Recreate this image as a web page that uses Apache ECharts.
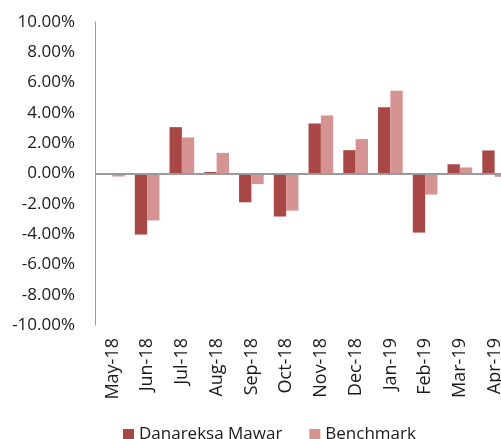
<!DOCTYPE html>
<html>
<head>
<meta charset="utf-8">
<script src="https://cdn.jsdelivr.net/npm/echarts@6/dist/echarts.min.js"></script>
<style>html,body{margin:0;padding:0;background:#fff;}#c{width:501px;height:439px;}</style>
</head>
<body>
<div id="c"></div>
<script>
var categories = ['May-18','Jun-18','Jul-18','Aug-18','Sep-18','Oct-18','Nov-18','Dec-18','Jan-19','Feb-19','Mar-19','Apr-19'];
var danareksa = [-0.1, -4.03, 3.06, 0.1, -1.9, -2.84, 3.3, 1.54, 4.38, -3.9, 0.61, 1.52];
var benchmark = [-0.2, -3.1, 2.38, 1.36, -0.7, -2.45, 3.83, 2.27, 5.46, -1.39, 0.4, -0.22];
var seriesNames = ['Danareksa Mawar', 'Benchmark'];

var font = '"Open Sans", "Liberation Sans", sans-serif';
var chart = echarts.init(document.getElementById('c'), null, {renderer: 'canvas'});
chart.setOption({
  animation: false,
  backgroundColor: '#ffffff',
  grid: {left: 95, width: 417, top: 22, height: 303, containLabel: false, outerBoundsMode: 'none'},
  legend: {
    data: seriesNames,
    left: 118, top: 421,
    itemWidth: 11, itemHeight: 11, itemGap: 27,
    icon: 'rect',
    textStyle: {fontFamily: font, fontSize: 17, color: '#1a1a1a'}
  },
  xAxis: {
    type: 'category',
    data: categories,
    axisLine: {show: false, onZero: false},
    axisTick: {show: false},
    axisLabel: {rotate: 90, margin: 13, fontFamily: font, fontSize: 18, color: '#1a1a1a', interval: 0}
  },
  yAxis: {
    type: 'value',
    min: -10, max: 10, interval: 2,
    axisLine: {show: true, lineStyle: {color: '#9a9a9a', width: 1}},
    axisTick: {show: false},
    splitLine: {show: false},
    axisLabel: {margin: 20, fontFamily: font, fontSize: 17, color: '#1a1a1a',
      formatter: function (v) { return v.toFixed(2) + '%'; }}
  },
  series: [
    {
      name: seriesNames[0], type: 'bar', data: danareksa,
      barGap: '0%', barCategoryGap: '29%',
      itemStyle: {color: '#A94745'},
      markLine: {
        silent: true, symbol: 'none', label: {show: false},
        lineStyle: {color: '#9a9a9a', width: 2, type: 'solid'},
        data: [{yAxis: 0}]
      },
      z: 2
    },
    {
      name: seriesNames[1], type: 'bar', data: benchmark,
      barGap: '0%', barCategoryGap: '29%',
      itemStyle: {color: '#D59492'},
      z: 2
    }
  ]
});
</script>
</body>
</html>
